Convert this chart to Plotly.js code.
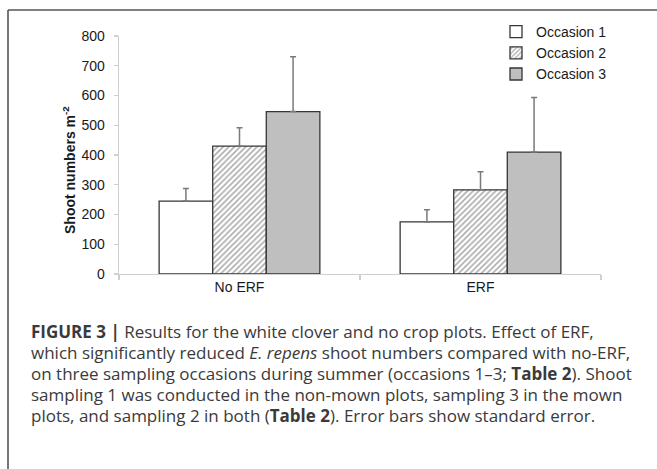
<!DOCTYPE html>
<html>
<head>
<meta charset="utf-8">
<script src="https://cdn.plot.ly/plotly-3.0.1.min.js"></script>
<style>html,body{margin:0;padding:0;background:#fff;}#chart{width:657px;height:469px;}</style>
</head>
<body>
<div id="chart"></div>
<script>
const categories = ["No ERF", "ERF"];
const seriesNames = ["Occasion 1", "Occasion 2", "Occasion 3"];
const occasion1 = [245, 175];
const occasion2 = [430, 283];
const occasion3 = [546, 410];
const se1 = [42, 41];
const se2 = [62, 61];
const se3 = [184, 183];
const yTicks = [0, 100, 200, 300, 400, 500, 600, 700, 800];
const captionLines = [
  '<b>FIGURE 3 |</b> Results for the white clover and no crop plots. Effect of ERF,',
  'which significantly reduced <i>E. repens</i> shoot numbers compared with no-ERF,',
  'on three sampling occasions during summer (occasions 1–3; <b>Table 2</b>). Shoot',
  'sampling 1 was conducted in the non-mown plots, sampling 3 in the mown',
  'plots, and sampling 2 in both (<b>Table 2</b>). Error bars show standard error.'
];

const W = 657, H = 469;
const L = 119, R = 56, T = 36, B = 195;
const pw = W - L - R, ph = H - T - B;
const px = x => (x - L) / pw;
const py = y => (H - B - y) / ph;

const outline = {color: '#363636', width: 1.3};
const err = arr => ({type: 'data', array: arr, symmetric: false, arrayminus: [0, 0], color: '#7a7a7a', thickness: 1.5, width: 3});

const traces = [
  {type: 'bar', name: seriesNames[0], x: categories, y: occasion1, error_y: err(se1),
   marker: {color: '#ffffff', line: outline}},
  {type: 'bar', name: seriesNames[1], x: categories, y: occasion2, error_y: err(se2),
   marker: {color: '#ffffff', line: outline, pattern: {shape: '/', size: 4, solidity: 0.38, fgcolor: '#555555', bgcolor: '#ffffff', fillmode: 'overlay'}}},
  {type: 'bar', name: seriesNames[2], x: categories, y: occasion3, error_y: err(se3),
   marker: {color: '#bfbfbf', line: outline}}
];

const capFont = {family: 'Open Sans, Liberation Sans, Arial, sans-serif', size: 17, color: '#3a3a3a', weight: 400};
const lineY = [331.5, 352.5, 373.3, 394.2, 415];
const captionAnns = captionLines.map((t, i) => ({
  xref: 'paper', yref: 'paper', x: px(30), y: py(lineY[i]), xanchor: 'left', yanchor: 'middle', align: 'left',
  showarrow: false, text: t, font: capFont, borderpad: 0
}));

const layout = {
  width: W, height: H,
  margin: {l: L, r: R, t: T, b: B, pad: 0},
  paper_bgcolor: '#ffffff', plot_bgcolor: '#ffffff',
  font: {family: 'Liberation Sans, Arial, sans-serif', size: 14, color: '#1a1a1a'},
  barmode: 'group', bargap: 0.333, bargroupgap: 0,
  showlegend: true,
  legend: {x: px(496), y: py(16), xanchor: 'left', yanchor: 'top', bgcolor: 'rgba(0,0,0,0)',
           font: {size: 14, color: '#1a1a1a'}, itemwidth: 30, tracegroupgap: 0},
  xaxis: {range: [-0.5, 1.5], showline: true, linecolor: '#cfcfcf', linewidth: 1.3,
          ticks: 'outside', tickson: 'boundaries', ticklen: 5, tickcolor: '#cfcfcf', tickwidth: 1.3,
          showgrid: false, zeroline: false, fixedrange: true},
  yaxis: {range: [0, 800], tickvals: yTicks, ticktext: yTicks.map(String),
          showline: true, linecolor: '#cfcfcf', linewidth: 1.3,
          ticks: 'outside', ticklen: 4, tickcolor: '#cfcfcf', tickwidth: 1.3, ticklabelstandoff: 6,
          showgrid: false, zeroline: false, fixedrange: true},
  shapes: [
    {type: 'line', xref: 'paper', yref: 'paper', x0: px(8), x1: px(660), y0: py(10), y1: py(10), line: {color: '#555555', width: 1.6}},
    {type: 'line', xref: 'paper', yref: 'paper', x0: px(8), x1: px(8), y0: py(10), y1: py(472), line: {color: '#555555', width: 1.6}}
  ],
  annotations: [
    {xref: 'paper', yref: 'paper', x: px(69), y: py(170), text: '<b>Shoot numbers m<sup>-2</sup></b>',
     textangle: -90, showarrow: false, xanchor: 'center', yanchor: 'middle',
     font: {family: 'Liberation Sans, Arial, sans-serif', size: 14, color: '#1a1a1a'}}
  ].concat(captionAnns)
};

Plotly.newPlot('chart', traces, layout, {displayModeBar: false, staticPlot: true});
</script>
</body>
</html>
